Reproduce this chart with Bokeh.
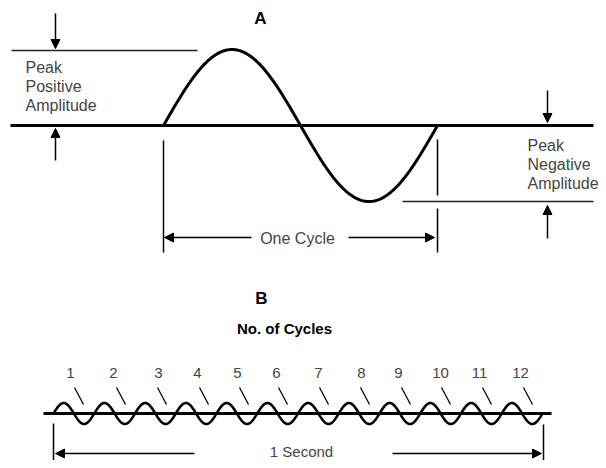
import numpy as np
from bokeh.plotting import figure
from bokeh.models import Range1d, Arrow, NormalHead
from bokeh.core.properties import value
from bokeh.embed import file_html
from bokeh.resources import INLINE

# ---- Panel A: one cycle ----
a_baseline_y = 125
a_baseline_x = [10, 593]
a_cycle_start = 163
a_cycle_end = 437
a_amplitude = 76
a_pos_line = {"x": [11, 197], "y": [50, 50]}
a_neg_line = {"x": [402, 593], "y": [201, 201]}
a_pos_label = ["Peak", "Positive", "Amplitude"]
a_neg_label = ["Peak", "Negative", "Amplitude"]
a_cycle_label = "One Cycle"

# ---- Panel B: twelve cycles in one second ----
b_baseline_y = 413
b_baseline_x = [43, 551]
b_start = 53
b_end = 542
b_amplitude = 10.5
b_cycle_numbers = [str(i) for i in range(1, 13)]
b_number_x = [70, 113, 158, 197, 237, 276, 318, 361, 398, 440, 479, 520]
b_tick_x = [74, 116, 157, 199, 239, 278, 319, 360, 401, 441, 482, 523]
b_title = "No. of Cycles"
b_span_label = "1 Second"

FONT = value("Liberation Sans")
TXT = "#444444"

p = figure(width=598, height=460, output_backend="svg", toolbar_location=None,
           x_range=Range1d(0, 598), y_range=Range1d(460, 0),
           min_border=0, outline_line_color=None)
p.axis.visible = False
p.grid.visible = False


def txt(x, y, t, size="16px", bold=False, align="left", color=TXT):
    p.text(x=[x], y=[y], text=[t], text_font=FONT, text_font_size=size,
           text_font_style="bold" if bold else "normal", text_align=align,
           text_baseline="middle", text_color=color)


def arrow(x0, y0, x1, y1):
    p.add_layout(Arrow(end=NormalHead(size=9, fill_color="black", line_color="black", line_width=1),
                       x_start=x0, y_start=y0, x_end=x1, y_end=y1,
                       line_width=1.5, line_color="black"))


# Panel A
txt(260, 18, "A", size="17px", bold=True, align="center", color="black")
p.line(a_baseline_x, [a_baseline_y] * 2, line_width=3.2, line_color="black")
xs = np.linspace(a_cycle_start, a_cycle_end, 300)
ys = a_baseline_y - a_amplitude * np.sin(2 * np.pi * (xs - a_cycle_start) / (a_cycle_end - a_cycle_start))
p.line(xs, ys, line_width=3, line_color="black")
p.line(a_pos_line["x"], a_pos_line["y"], line_width=1.5, line_color="#222")
p.line(a_neg_line["x"], a_neg_line["y"], line_width=1.5, line_color="#222")
# vertical markers
p.line([a_cycle_start, a_cycle_start], [140, 252], line_width=1.5, line_color="black")
p.line([a_cycle_end, a_cycle_end], [139, 195], line_width=1.5, line_color="black")
p.line([a_cycle_end, a_cycle_end], [208, 252], line_width=1.5, line_color="black")
# amplitude arrows
arrow(55, 13, 55, 48)
arrow(55, 160, 55, 128)
arrow(547, 90, 547, 122)
arrow(547, 238, 547, 205)
for i, t in enumerate(a_pos_label):
    txt(25, 67 + 19 * i, t)
for i, t in enumerate(a_neg_label):
    txt(527, 145 + 19 * i, t)
# one-cycle arrows
arrow(251, 237, a_cycle_start + 1, 237)
arrow(348, 237, a_cycle_end - 3, 237)
txt(297, 238, a_cycle_label, align="center")

# Panel B
txt(261, 298, "B", size="17px", bold=True, align="center", color="black")
txt(284, 328, b_title, size="15px", bold=True, align="center", color="black")
p.line(b_baseline_x, [b_baseline_y] * 2, line_width=3, line_color="black")
xb = np.linspace(b_start, b_end, 1500)
yb = b_baseline_y - b_amplitude * np.sin(2 * np.pi * 12 * (xb - b_start) / (b_end - b_start))
p.line(xb, yb, line_width=2.6, line_color="black")
for x, t in zip(b_number_x, b_cycle_numbers):
    txt(x, 372, t, size="15px", align="center")
p.segment(x0=b_tick_x, y0=[387] * 12, x1=[x + 9 for x in b_tick_x], y1=[404] * 12,
          line_width=1.3, line_color="black")
p.line([b_start, b_start], [423, 467], line_width=1.5, line_color="black")
p.line([b_end + 1, b_end + 1], [424, 467], line_width=1.5, line_color="black")
arrow(194, 453, b_start + 2, 453)
arrow(392, 453, b_end - 1, 453)
txt(301, 451, b_span_label, size="15px", align="center")

open("out.html", "w").write(file_html(p, INLINE))
